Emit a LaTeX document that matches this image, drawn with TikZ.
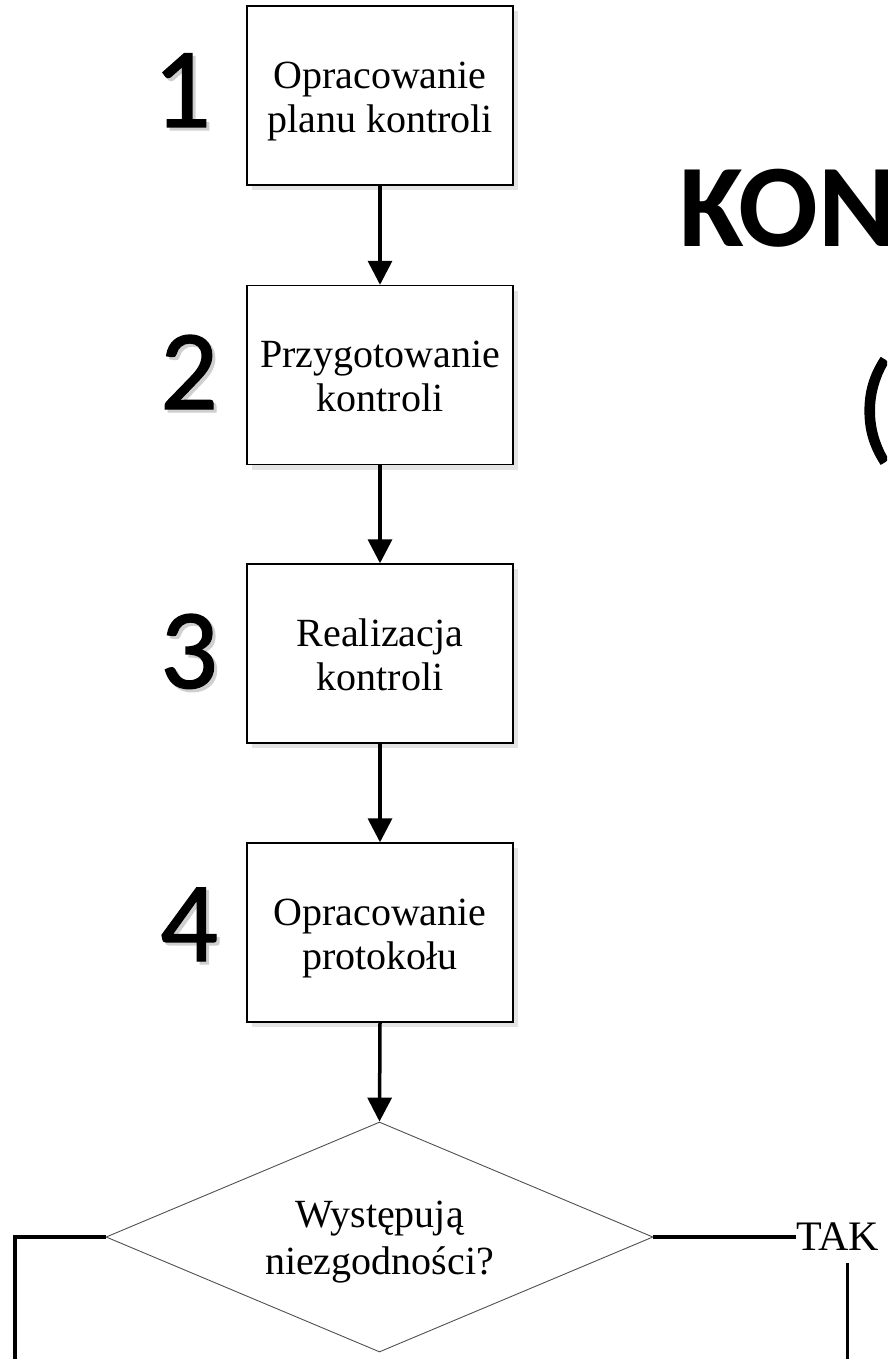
\documentclass[tikz,border=0pt]{standalone}
\usepackage{fontspec}
\setmainfont{Liberation Serif}
\newfontfamily\calfont{Carlito}
\newfontfamily\calheavy[FakeBold=1.2]{Carlito}
\usetikzlibrary{arrows.meta,shapes.geometric,shadows}

\definecolor{boxshadow}{HTML}{E4E4E4}
\definecolor{numshadow}{HTML}{CFCFCF}
\definecolor{diamondline}{HTML}{505050}

\tikzset{
  stepbox/.style={draw=black, line width=1.4pt, fill=white,
    minimum width=266pt, minimum height=179pt, inner sep=0pt,
    font=\fontsize{40}{44}\selectfont,
    drop shadow={shadow xshift=5pt, shadow yshift=-5pt, fill=boxshadow, opacity=1}},
  decisionbox/.style={diamond, draw=diamondline, line width=0.9pt,
    minimum width=547pt, minimum height=230pt, aspect=2.378, inner sep=0pt,
    font=\fontsize{40}{47}\selectfont},
  flowarrow/.style={line width=3.5pt, -{Triangle[width=24pt,length=24pt]}},
  flowline/.style={line width=3.5pt},
  stepnum/.style={anchor=base, inner sep=0pt, font=\calheavy\fontsize{114}{114}\selectfont},
  numshade/.style={stepnum, text=numshadow},
  plaintext/.style={inner sep=0pt, font=\fontsize{42}{44}\selectfont}
}

% centred lines of text, set a little below the middle of their box
\newcommand{\boxlines}[2][6pt]{%
  \raisebox{-#1}[\height][\depth]{\begin{tabular}{@{}c@{}}#2\end{tabular}}}

\newcommand{\stepnumber}[3]{%
  \node[numshade] at (#1+3,#2+3) {#3};
  \node[stepnum] (n#3) at (#1,#2) {#3};}

\begin{document}
\begin{tikzpicture}[x=1pt,y=-1pt]
  \useasboundingbox (0,0) rectangle (887,1359);
  \clip (0,0) rectangle (887,1359);

  % title, running off the right edge
  \node[anchor=base west, inner sep=0pt, font=\calfont\bfseries\fontsize{118}{118}\selectfont] (title) at (679,246) {KON};
  \node[anchor=base west, inner sep=0pt, font=\calheavy\fontsize{122}{122}\selectfont] (paren) at (856,447) {(};

  % process steps
  \node[stepbox] (s1) at (380,95.5)  {\boxlines{Opracowanie\\planu kontroli}};
  \node[stepbox] (s2) at (380,375)   {\boxlines{Przygotowanie\\kontroli}};
  \node[stepbox] (s3) at (380,653.5) {\boxlines{Realizacja\\kontroli}};
  \node[stepbox] (s4) at (380,932.5) {\boxlines{Opracowanie\\protokołu}};

  % step numbers with their shadows
  \stepnumber{182}{127}{1}
  \stepnumber{189}{409}{2}
  \stepnumber{189}{688}{3}
  \stepnumber{189}{961}{4}

  % decision
  \node[decisionbox] (dec) at (379.5,1237) {\boxlines[5pt]{Występują\\niezgodności?}};

  \draw[flowarrow] (s1.south) -- (s2.north);
  \draw[flowarrow] (s2.south) -- (s3.north);
  \draw[flowarrow] (s3.south) -- (s4.north);
  \draw[flowarrow] (s4.south) -- (dec.north);

  % branches out of the decision
  \coordinate (leftdown) at (15,1370);
  \draw[flowline] (dec.west) -| (leftdown);

  \node[plaintext, anchor=west] (tak) at (796,1237) {TAK};
  \draw[flowline] (dec.east) -- (tak.west);

  \coordinate (yestop) at (847,1263);
  \coordinate (yesdown) at (847,1370);
  \draw[line width=3pt] (yestop) -- (yesdown);
\end{tikzpicture}
\end{document}
